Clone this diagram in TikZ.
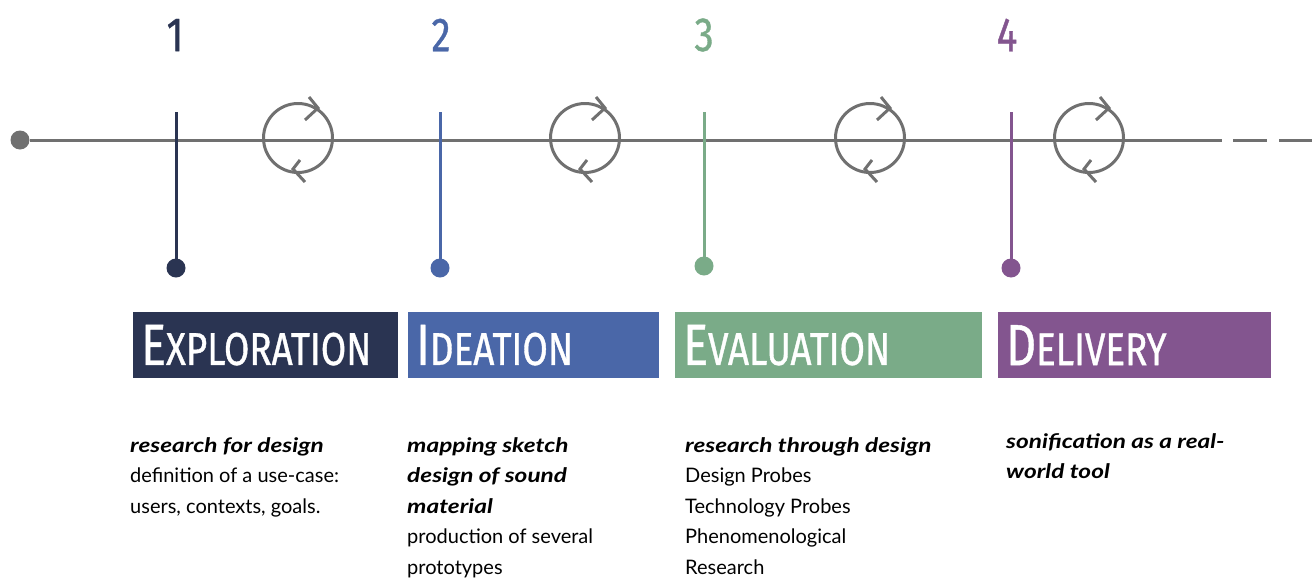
\documentclass[tikz,border=0pt]{standalone}
\usepackage{fontspec}
\setmainfont{Lato}
\newfontfamily\dinfont[FakeStretch=0.8,FakeBold=0.8]{Fira Sans}
\newfontfamily\leadfont[FakeStretch=1.22]{Lato}
\usetikzlibrary{positioning}
\definecolor{navy}{HTML}{2A3452}
\definecolor{steel}{HTML}{4A67A8}
\definecolor{sage}{HTML}{7AAB88}
\definecolor{plum}{HTML}{83558F}
\definecolor{linegray}{HTML}{707070}
\newcommand{\stagename}[2]{{\fontsize{58}{58}\selectfont #1}{\fontsize{46}{46}\selectfont #2}}
\newcommand{\lead}[1]{{\leadfont\bfseries\itshape #1}}
\tikzset{
    timeline/.style={draw=linegray, line width=3pt},
    startdot/.style={circle, fill=linegray, inner sep=0, minimum size=19pt},
    cycle node/.style={circle, draw=linegray, line width=3pt, inner sep=0, minimum size=69pt},
    cycle tick/.style={draw=linegray, line width=3pt},
    stem/.style={draw=#1, line width=3pt},
    stem dot/.style={circle, fill=#1, inner sep=0, minimum size=19pt},
    stage number/.style={text=#1, font=\dinfont\fontsize{48}{48}\selectfont, inner sep=0},
    stagebox/.style={rectangle, fill=#1, text=white, anchor=north west, align=left,
        inner xsep=8pt, inner ysep=0, minimum height=66pt, font=\dinfont},
    desc/.style={anchor=north west, align=left, inner sep=0, text=black,
        font=\fontsize{20}{30.5}\selectfont}
}
\begin{document}
\begin{tikzpicture}[x=1pt,y=-1pt]
    \useasboundingbox (0,0) rectangle (1316,581);
    % timeline
    \node[startdot] (start) at (20,140) {};
    \coordinate (lineend) at (1222,140);
    \coordinate (dashA1) at (1233,140);
    \coordinate (dashA2) at (1267,140);
    \coordinate (dashB1) at (1279,140);
    \coordinate (dashB2) at (1312,140);
    \draw[timeline] (start) -- (lineend);
    \draw[timeline] (dashA1) -- (dashA2);
    \draw[timeline] (dashB1) -- (dashB2);
    % cycles
    \node[cycle node] (cyc1) at (298,138) {};
    \node[cycle node] (cyc2) at (585,138) {};
    \node[cycle node] (cyc3) at (870,138) {};
    \node[cycle node] (cyc4) at (1089,138) {};
    \foreach \c in {cyc1,cyc2,cyc3,cyc4}{
        \draw[cycle tick] ([shift={(11,-41)}]\c.center) -- ([shift={(20,-30)}]\c.center) -- ([shift={(7,-18)}]\c.center);
        \draw[cycle tick] ([shift={(2,22)}]\c.center) -- ([shift={(-5,31)}]\c.center) -- ([shift={(7,44)}]\c.center);
    }
    % stage stems
    \node[stage number=navy] (num1) at (175,35) {1};
    \node[stage number=steel] (num2) at (441,35) {2};
    \node[stage number=sage] (num3) at (704,35) {3};
    \node[stage number=plum] (num4) at (1007,35) {4};
    \coordinate (top1) at (176,112);
    \coordinate (top2) at (440,112);
    \coordinate (top3) at (704,112);
    \coordinate (top4) at (1011,112);
    \node[stem dot=navy] (dot1) at (176,268) {};
    \node[stem dot=steel] (dot2) at (440,268) {};
    \node[stem dot=sage] (dot3) at (704,266) {};
    \node[stem dot=plum] (dot4) at (1011,268) {};
    \draw[stem=navy] (top1) -- (dot1.center);
    \draw[stem=steel] (top2) -- (dot2.center);
    \draw[stem=sage] (top3) -- (dot3.center);
    \draw[stem=plum] (top4) -- (dot4.center);
    % stage boxes
    \node[stagebox=navy, text width=249pt] (exploration) at (133,312) {\stagename{E}{XPLORATION}};
    \node[stagebox=steel, text width=235pt] (ideation) at (408,312) {\stagename{I}{DEATION}};
    \node[stagebox=sage, text width=291pt] (evaluation) at (675,312) {\stagename{E}{VALUATION}};
    \node[stagebox=plum, text width=257pt] (delivery) at (998,312) {\stagename{D}{ELIVERY}};
    % descriptions
    \node[desc] (txt1) at (130,437) {\lead{research for design}\\definition of a use-case:\\users, contexts, goals.};
    \node[desc] (txt2) at (407,437) {\lead{mapping sketch}\\\lead{design of sound}\\\lead{material}\\production of several\\prototypes};
    \node[desc] (txt3) at (685,437) {\lead{research through design}\\Design Probes\\Technology Probes\\Phenomenological\\Research};
    \node[desc] (txt4) at (1006,433) {\lead{sonification as a real-}\\\lead{world tool}};
\end{tikzpicture}
\end{document}
